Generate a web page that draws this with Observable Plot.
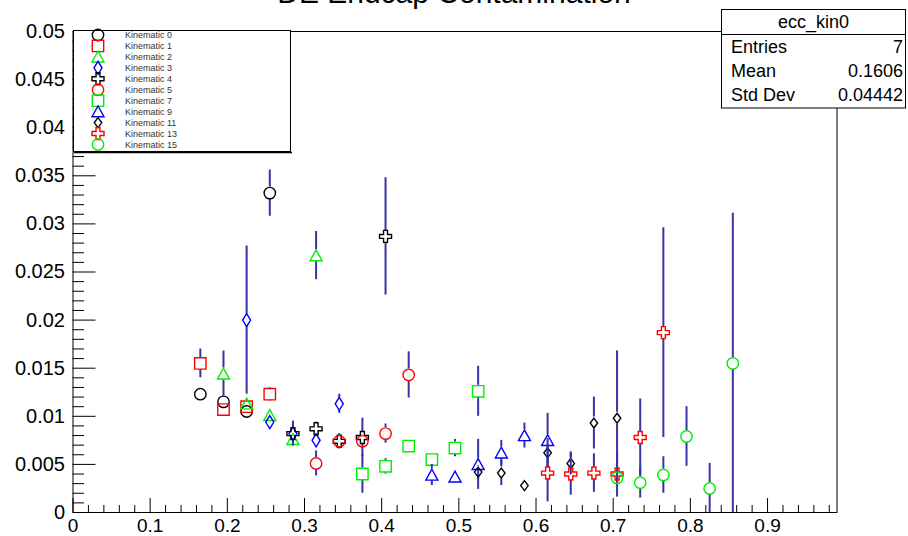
<!DOCTYPE html>
<html>
<head>
<meta charset="utf-8">
<script src="https://cdn.jsdelivr.net/npm/d3@7"></script>
<script src="https://cdn.jsdelivr.net/npm/@observablehq/plot@0.6"></script>
<style>
  body { margin: 0; background: #fff; }
  #chart { position: relative; width: 908px; height: 536px; overflow: hidden; background: #fff; }
</style>
</head>
<body>
<div id="chart"></div>
<script>
// ---------------- data ----------------
const seriesNames = ["Kinematic 0","Kinematic 1","Kinematic 2","Kinematic 3","Kinematic 4","Kinematic 5","Kinematic 7","Kinematic 9","Kinematic 11","Kinematic 13","Kinematic 15"];
const seriesColors = ["#000000","#ff0000","#00ee00","#0000ff","#000000","#ff0000","#00ee00","#0000ff","#000000","#ff0000","#00ee00"];
const seriesShapes = ["circle","square","triangle","diamond","cross","circle","square","triangle","smalldiamond","cross","circle"];

const k0_x  = [0.165, 0.195, 0.225, 0.255];
const k0_y  = [0.0123, 0.0115, 0.0105, 0.0332];
const k0_e  = [0.0004, 0.0005, 0.0005, 0.0024];
const k1_x  = [0.165, 0.195, 0.225, 0.255];
const k1_y  = [0.0155, 0.0107, 0.0110, 0.0123];
const k1_e  = [0.0015, 0.0003, 0.0004, 0.0007];
const k2_x  = [0.195, 0.225, 0.255, 0.285, 0.315];
const k2_y  = [0.0144, 0.0113, 0.0101, 0.0076, 0.0267];
const k2_e  = [0.0024, 0.0004, 0.0006, 0.0006, 0.0025];
const k3_x  = [0.225, 0.255, 0.285, 0.315, 0.345];
const k3_y  = [0.0200, 0.0094, 0.0082, 0.0075, 0.0113];
const k3_e  = [0.0077, 0.0005, 0.0013, 0.0005, 0.0010];
const k4_x  = [0.285, 0.315, 0.345, 0.375, 0.405];
const k4_y  = [0.0082, 0.0087, 0.0074, 0.0078, 0.0287];
const k4_e  = [0.0010, 0.0007, 0.0004, 0.0020, 0.0061];
const k5_x  = [0.315, 0.345, 0.375, 0.405, 0.435];
const k5_y  = [0.0051, 0.0074, 0.0074, 0.0082, 0.0143];
const k5_e  = [0.0013, 0.0008, 0.0006, 0.0010, 0.0024];
const k7_x  = [0.375, 0.405, 0.435, 0.465, 0.495, 0.525];
const k7_y  = [0.0040, 0.0048, 0.0069, 0.0055, 0.0067, 0.0126];
const k7_e  = [0.0020, 0.0008, 0.0006, 0.0003, 0.0009, 0.0026];
const k9_x  = [0.465, 0.495, 0.525, 0.555, 0.585, 0.615];
const k9_y  = [0.0039, 0.0037, 0.0050, 0.0062, 0.0080, 0.0075];
const k9_e  = [0.0011, 0.0003, 0.0026, 0.0013, 0.0013, 0.0028];
const k11_x = [0.525, 0.555, 0.585, 0.615, 0.645, 0.675, 0.705];
const k11_y = [0.0042, 0.0041, 0.0028, 0.0062, 0.0051, 0.0093, 0.0098];
const k11_e = [0.0007, 0.0013, 0.0003, 0.0015, 0.0012, 0.0027, 0.0070];
const k13_x = [0.615, 0.645, 0.675, 0.705, 0.735, 0.765];
const k13_y = [0.0041, 0.0040, 0.0041, 0.0040, 0.0078, 0.0187];
const k13_e = [0.0030, 0.0022, 0.0020, 0.0024, 0.0040, 0.0109];
const k15_x = [0.705, 0.735, 0.765, 0.795, 0.825, 0.855];
const k15_y = [0.0036, 0.0031, 0.0039, 0.0079, 0.0025, 0.0155];
const k15_e = [0.0006, 0.0016, 0.0019, 0.0031, 0.0026, 0.0156];

const xMajor = [0, 0.1, 0.2, 0.3, 0.4, 0.5, 0.6, 0.7, 0.8, 0.9];
const xTickLabels = ["0","0.1","0.2","0.3","0.4","0.5","0.6","0.7","0.8","0.9"];
const yMajor = [0, 0.005, 0.01, 0.015, 0.02, 0.025, 0.03, 0.035, 0.04, 0.045, 0.05];
const yTickLabels = ["0","0.005","0.01","0.015","0.02","0.025","0.03","0.035","0.04","0.045","0.05"];

const titleText = "DE Endcap Contamination";
const statsTitle = "ecc_kin0";
const statsLabels = ["Entries", "Mean", "Std Dev"];
const statsValues = ["7", "0.1606", "0.04442"];

// ---------------- build ----------------
const xs = [k0_x,k1_x,k2_x,k3_x,k4_x,k5_x,k7_x,k9_x,k11_x,k13_x,k15_x];
const ys = [k0_y,k1_y,k2_y,k3_y,k4_y,k5_y,k7_y,k9_y,k11_y,k13_y,k15_y];
const es = [k0_e,k1_e,k2_e,k3_e,k4_e,k5_e,k7_e,k9_e,k11_e,k13_e,k15_e];

const W = 908, H = 536, mL = 72.5, mR = 71.5, mT = 31, mB = 24;
const frameW = W - mL - mR, frameH = H - mT - mB;
const yMax = 0.05;
const gap = 6 / frameH * yMax; // error bar leaves room for the marker

function sym(fn) { return { draw(ctx, size) { fn(ctx, Math.sqrt(size / Math.PI)); } }; }
function poly(c, pts) { c.moveTo(pts[0][0], pts[0][1]); for (let i = 1; i < pts.length; i++) c.lineTo(pts[i][0], pts[i][1]); c.closePath(); }
const shapes = {
  circle: sym((c, s) => { const r = s * 0.95; c.moveTo(r, 0); c.arc(0, 0, r, 0, 2 * Math.PI); }),
  square: sym((c, s) => { const h = s * 0.95; poly(c, [[-h,-h],[h,-h],[h,h],[-h,h]]); }),
  triangle: sym((c, s) => { poly(c, [[0,-0.95*s],[s,0.85*s],[-s,0.85*s]]); }),
  diamond: sym((c, s) => { poly(c, [[0,-1.08*s],[0.67*s,0],[0,1.08*s],[-0.67*s,0]]); }),
  smalldiamond: sym((c, s) => { poly(c, [[0,-0.83*s],[0.62*s,0],[0,0.83*s],[-0.62*s,0]]); }),
  cross: sym((c, s) => { const a = s, b = s * 0.33; poly(c, [[-b,-a],[b,-a],[b,-b],[a,-b],[a,b],[b,b],[b,a],[-b,a],[-b,b],[-a,b],[-a,-b],[-b,-b]]); })
};

const errColor = "#3434a6";
const marks = [];
marks.push(Plot.frame({stroke: "#000", strokeWidth: 1}));
// ticks (ROOT style, inside the frame)
const xMinor = d3.range(1, 50).map(i => i * 0.02).filter(v => Math.abs(v * 10 - Math.round(v * 10)) > 1e-6);
const yMinor = d3.range(1, 50).map(i => i * 0.001).filter(v => Math.abs(v * 200 - Math.round(v * 200)) > 1e-6);
marks.push(Plot.ruleX(xMajor, {x: d => d, insetTop: frameH - 14, stroke: "#000"}));
marks.push(Plot.ruleX(xMinor, {x: d => d, insetTop: frameH - 7, stroke: "#000"}));
marks.push(Plot.ruleY(yMajor, {y: d => d, insetRight: frameW - 23, stroke: "#000"}));
marks.push(Plot.ruleY(yMinor, {y: d => d, insetRight: frameW - 11.5, stroke: "#000"}));
// tick labels
marks.push(Plot.text(xMajor, {x: d => d, y: 0, text: (d, i) => xTickLabels[i], dy: 13, fontSize: 19, fill: "#000"}));
marks.push(Plot.text(yMajor, {x: 0, y: d => d, text: (d, i) => yTickLabels[i], dx: -8, textAnchor: "end", fontSize: 20, fill: "#000"}));

seriesNames.forEach((name, k) => {
  const rows = xs[k].map((x, i) => ({x, y: ys[k][i], e: es[k][i]}));
  const segs = [];
  rows.forEach(r => {
    if (r.e > gap) {
      segs.push({x: r.x, y1: r.y - r.e, y2: r.y - gap});
      segs.push({x: r.x, y1: r.y + gap, y2: r.y + r.e});
    }
  });
  marks.push(Plot.ruleX(segs, {x: "x", y1: "y1", y2: "y2", stroke: errColor, strokeWidth: 2, clip: true}));
  marks.push(Plot.dot(rows, {x: "x", y: "y", r: 6, symbol: shapes[seriesShapes[k]], stroke: seriesColors[k], fill: "none", strokeWidth: 1.4}));
});

const svg = Plot.plot({
  width: W, height: H,
  marginLeft: mL, marginRight: mR, marginTop: mT, marginBottom: mB,
  x: {domain: [0, 0.99], axis: null},
  y: {domain: [0, yMax], axis: null},
  style: {fontFamily: "'Liberation Sans', Arial, Helvetica, sans-serif", background: "#fff", color: "#000"},
  marks
});
document.getElementById("chart").appendChild(svg);

const g = d3.select(svg);
const font = "'Liberation Sans', Arial, Helvetica, sans-serif";

// title (mostly cut off at the top, as in the reference)
g.append("text").attr("x", 454).attr("y", 3).attr("text-anchor", "middle")
  .attr("font-family", font).attr("font-size", 30).attr("fill", "#000").text(titleText);

// legend
const lg = g.append("g");
lg.append("rect").attr("x", 73.5).attr("y", 30.5).attr("width", 217).attr("height", 121)
  .attr("fill", "#fff").attr("stroke", "#000").attr("stroke-width", 1);
lg.append("line").attr("x1", 74).attr("x2", 292).attr("y1", 152.5).attr("y2", 152.5).attr("stroke", "#000").attr("stroke-width", 1.5);
seriesNames.forEach((name, k) => {
  const yy = 35 + k * 10.95;
  lg.append("path").attr("d", d3.symbol().type(shapes[seriesShapes[k]]).size(Math.PI * 36)())
    .attr("transform", `translate(98,${yy})`).attr("fill", "none").attr("stroke", seriesColors[k]).attr("stroke-width", 1.4);
  lg.append("text").attr("x", 125).attr("y", yy).attr("dy", "0.35em").attr("text-anchor", "start")
    .attr("font-family", font).attr("font-size", 9).attr("fill", "#333").text(name);
});

// stats box
const sg = g.append("g");
sg.append("rect").attr("x", 721.5).attr("y", 9.5).attr("width", 184).attr("height", 98.5)
  .attr("fill", "#fff").attr("stroke", "#000").attr("stroke-width", 1);
sg.append("line").attr("x1", 721.5).attr("x2", 905.5).attr("y1", 34.5).attr("y2", 34.5).attr("stroke", "#000");
sg.append("text").attr("x", 813.5).attr("y", 22).attr("dy", "0.35em").attr("text-anchor", "middle")
  .attr("font-family", font).attr("font-size", 18).attr("fill", "#000").text(statsTitle);
statsLabels.forEach((lab, i) => {
  const yy = 47 + i * 24;
  sg.append("text").attr("x", 731).attr("y", yy).attr("dy", "0.35em").attr("text-anchor", "start")
    .attr("font-family", font).attr("font-size", 18).attr("fill", "#000").text(lab);
  sg.append("text").attr("x", 903).attr("y", yy).attr("dy", "0.35em").attr("text-anchor", "end")
    .attr("font-family", font).attr("font-size", 18).attr("fill", "#000").text(statsValues[i]);
});
</script>
</body>
</html>
